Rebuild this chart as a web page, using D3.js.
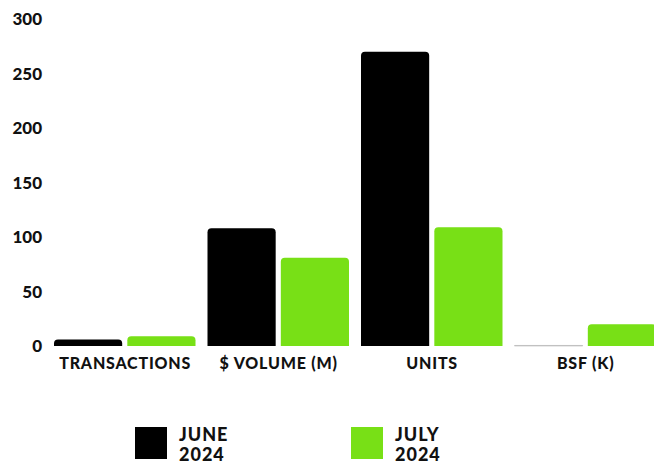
<!DOCTYPE html>
<html>
<head>
<meta charset="utf-8">
<script src="https://cdn.jsdelivr.net/npm/d3@7"></script>
<style>
  html, body { margin: 0; padding: 0; background: #fff; }
  svg { display: block; }
  text { font-family: Lato, "Open Sans", sans-serif; font-weight: 900; fill: #111; }
</style>
</head>
<body>
<svg id="chart" width="654" height="464"></svg>
<script>
// categories and series
const categories = ['TRANSACTIONS', '$ VOLUME (M)', 'UNITS', 'BSF (K)'];
const seriesNames = ['JUNE 2024', 'JULY 2024'];
const june = [6, 108, 270, 0.5];
const july = [9, 81, 109, 20];
const yTicks = [0, 50, 100, 150, 200, 250, 300];
const colors = ['#000000', '#78e016'];

const svg = d3.select('#chart');

// Scales
const x0 = d3.scaleBand().domain(categories).range([48, 662]);
const x1 = d3.scaleBand().domain(seriesNames).range([6, x0.bandwidth() - 6]).paddingInner(0.07);
const y = d3.scaleLinear().domain([0, 300]).range([346, 19]);

// y axis labels (no line, no ticks)
const yAxis = d3.axisLeft(y).tickValues(yTicks).tickSize(0).tickPadding(0);
const yg = svg.append('g').attr('transform', 'translate(42,0)').call(yAxis);
yg.select('.domain').remove();
yg.selectAll('text')
  .attr('dy', '0.35em')
  .style('font-size', '17px')
  .style('font-family', 'Lato, sans-serif')
  .style('font-weight', 900)
  .attr('fill', '#111');

// bar with rounded top corners
function barPath(x, yTop, w, h, r) {
  r = Math.min(r, h, w / 2);
  return `M${x},${yTop + h}V${yTop + r}Q${x},${yTop} ${x + r},${yTop}H${x + w - r}Q${x + w},${yTop} ${x + w},${yTop + r}V${yTop + h}Z`;
}

const rows = categories.map((c, i) => ({ cat: c, vals: [june[i], july[i]] }));

const groups = svg.append('g').selectAll('g')
  .data(rows)
  .enter()
  .append('g')
  .attr('transform', d => `translate(${x0(d.cat)},0)`);

groups.selectAll('path')
  .data(d => d.vals.map((v, j) => ({ name: seriesNames[j], v: v, j: j })))
  .enter()
  .append('path')
  .attr('d', d => {
    const top = y(d.v);
    const h = y(0) - top;
    return barPath(x1(d.name), top, x1.bandwidth(), h, 4);
  })
  .attr('fill', d => colors[d.j])
  .attr('stroke', d => d.v < 1 ? '#ccc' : 'none')
  .attr('stroke-width', 0.8);

// category labels
const xAxis = d3.axisBottom(x0).tickSize(0).tickPadding(0);
const xg = svg.append('g').attr('transform', 'translate(0,369)').call(xAxis);
xg.select('.domain').remove();
xg.selectAll('text')
  .attr('dy', 0)
  .attr('dx', '0.4px')
  .style('font-size', '16px')
  .style('letter-spacing', '0.8px')
  .style('font-family', 'Lato, sans-serif')
  .style('font-weight', 900)
  .attr('fill', '#111');

// legend
const legendX = [135, 351];
const legend = svg.append('g').selectAll('g')
  .data(seriesNames)
  .enter()
  .append('g')
  .attr('transform', (d, i) => `translate(${legendX[i]},427)`);

legend.append('rect')
  .attr('width', 32)
  .attr('height', 32)
  .attr('fill', (d, i) => colors[i]);

legend.append('text')
  .attr('x', 44)
  .attr('y', 14)
  .style('font-size', '18px')
  .style('letter-spacing', '1px')
  .selectAll('tspan')
  .data(d => d.split(' '))
  .enter()
  .append('tspan')
  .attr('x', 44)
  .attr('dy', (d, i) => i === 0 ? 0 : 20)
  .text(d => d);
</script>
</body>
</html>
